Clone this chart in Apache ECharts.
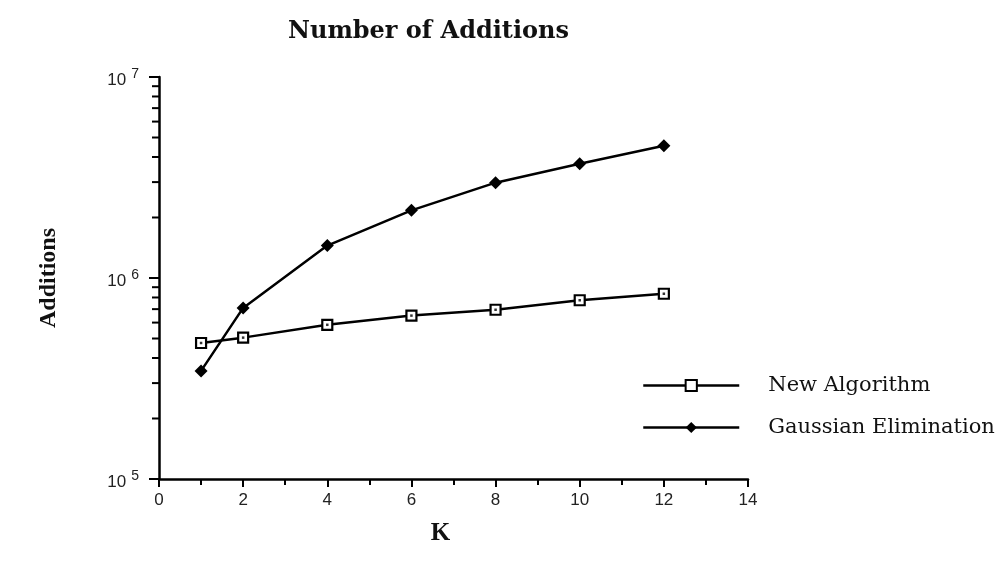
<!DOCTYPE html>
<html>
<head>
<meta charset="utf-8">
<script src="https://cdn.jsdelivr.net/npm/echarts@6/dist/echarts.min.js"></script>
<style>
html,body{margin:0;padding:0;background:#fff;}
#chart{width:1003px;height:567px;}
</style>
</head>
<body>
<div id="chart"></div>
<script>
// K values
const kValues = [1, 2, 4, 6, 8, 10, 12];
// Number of additions
const newAlgorithm = [475000, 505000, 585000, 650000, 695000, 775000, 835000];
const gaussianElimination = [345000, 710000, 1450000, 2170000, 2980000, 3700000, 4550000];
// log-axis minor tick values
const yMinorTicks = [2e5, 3e5, 4e5, 5e5, 6e5, 7e5, 8e5, 9e5, 2e6, 3e6, 4e6, 5e6, 6e6, 7e6, 8e6, 9e6];

const serif = '"Liberation Serif", "DejaVu Serif", serif';
const wideSerif = '"DejaVu Serif", "Liberation Serif", serif';
const sans = '"Liberation Sans", "DejaVu Sans", sans-serif';

const chart = echarts.init(document.getElementById('chart'));

chart.setOption({
  animation: false,
  backgroundColor: '#fff',
  title: {
    text: 'Number of Additions',
    left: 283,
    top: 15,
    textStyle: { fontFamily: wideSerif, fontWeight: 'bold', fontSize: 24, color: '#111' }
  },
  legend: {
    orient: 'vertical',
    left: 637,
    top: 370,
    itemWidth: 96,
    itemHeight: 14,
    itemGap: 21,
    data: ['New Algorithm', 'Gaussian Elimination'],
    lineStyle: { width: 2.5, color: '#000' },
    textStyle: { fontFamily: wideSerif, fontSize: 21, color: '#111', padding: [0, 0, 0, 24] }
  },
  grid: { left: 159, right: 255, top: 77, bottom: 88 },
  xAxis: {
    type: 'value',
    min: 0,
    max: 14,
    interval: 2,
    name: 'K',
    nameLocation: 'middle',
    nameGap: 42,
    nameTextStyle: { fontFamily: serif, fontWeight: 'bold', fontSize: 25, color: '#111', padding: [0, 26, 0, 0] },
    axisLine: { lineStyle: { color: '#000', width: 2.5 } },
    axisTick: { length: 8, lineStyle: { color: '#000', width: 2 } },
    minorTick: { show: true, splitNumber: 2, length: 6, lineStyle: { color: '#000', width: 2 } },
    axisLabel: { margin: 13, fontFamily: sans, fontSize: 17, color: '#222' },
    splitLine: { show: false }
  },
  yAxis: {
    type: 'log',
    logBase: 10,
    min: 1e5,
    max: 1e7,
    name: 'Additions',
    nameLocation: 'middle',
    nameRotate: 90,
    nameGap: 98,
    nameTextStyle: { fontFamily: serif, fontWeight: 'bold', fontSize: 24, color: '#111' },
    axisLine: { show: true, lineStyle: { color: '#000', width: 2.5 } },
    axisTick: { show: true, length: 10, lineStyle: { color: '#000', width: 2 } },
    splitLine: { show: false },
    axisLabel: {
      margin: 20,
      formatter: function (v) {
        return '{b|10}{s|' + Math.round(Math.log10(v)) + '}';
      },
      rich: {
        b: { fontFamily: sans, fontSize: 17, color: '#222', padding: [6, 5, 0, 0] },
        s: { fontFamily: sans, fontSize: 14, color: '#222', padding: [0, 0, 6, 0] }
      }
    }
  },
  series: [
    {
      name: 'New Algorithm',
      type: 'line',
      data: kValues.map((k, i) => [k, newAlgorithm[i]]),
      symbol: 'rect',
      symbolSize: 10,
      showAllSymbol: true,
      z: 3,
      lineStyle: { color: '#000', width: 2.5 },
      itemStyle: { color: '#fff', borderColor: '#000', borderWidth: 2.2 }
    },
    {
      name: 'New Algorithm dots',
      type: 'scatter',
      data: kValues.map((k, i) => [k, newAlgorithm[i]]),
      symbol: 'rect',
      symbolSize: 2.5,
      z: 4,
      silent: true,
      itemStyle: { color: '#000' }
    },
    {
      name: 'Gaussian Elimination',
      type: 'line',
      data: kValues.map((k, i) => [k, gaussianElimination[i]]),
      symbol: 'diamond',
      symbolSize: 13,
      z: 3,
      lineStyle: { color: '#000', width: 2.5 },
      itemStyle: { color: '#000' }
    },
    {
      name: 'minorTicks',
      type: 'custom',
      silent: true,
      clip: false,
      data: yMinorTicks.map(v => [0, v]),
      encode: { x: 0, y: 1 },
      renderItem: function (params, api) {
        const p = api.coord([api.value(0), api.value(1)]);
        return {
          type: 'line',
          shape: { x1: p[0] - 7, y1: p[1], x2: p[0], y2: p[1] },
          style: { stroke: '#000', lineWidth: 2 }
        };
      }
    }
  ]
});
</script>
</body>
</html>
